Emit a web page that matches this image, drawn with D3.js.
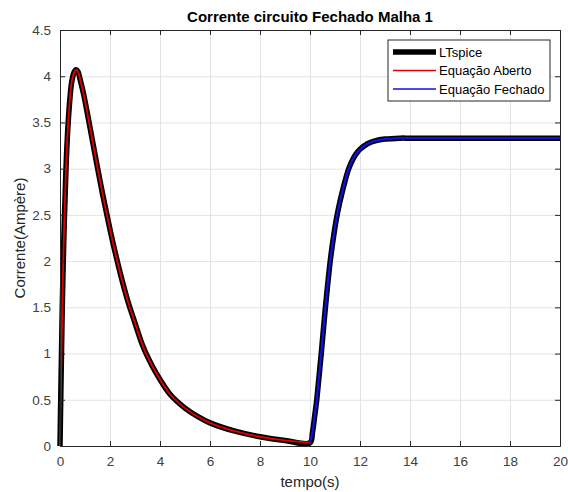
<!DOCTYPE html>
<html>
<head>
<meta charset="utf-8">
<script src="https://cdn.jsdelivr.net/npm/d3@7"></script>
<style>
  body { margin: 0; background: #fff; }
  svg { font-family: "Liberation Sans", Arial, sans-serif; }
</style>
</head>
<body>
<svg id="fig" width="568" height="492"></svg>
<script>
// valores
var tempoAberto    = [0, 0.02, 0.05, 0.09, 0.16, 0.24, 0.31, 0.4, 0.47, 0.56, 0.64, 0.72, 0.8, 0.95, 1.1, 1.3, 1.5, 1.7, 1.9, 2.1, 2.4, 2.7, 3.0, 3.33, 3.7, 4.0, 4.4, 5.0, 5.5, 6.0, 7.0, 8.0, 9.0, 10.0];
var correnteAberto = [0, 0.35, 0.85, 1.5, 2.31, 3.0, 3.42, 3.77, 3.94, 4.04, 4.07, 4.05, 3.97, 3.8, 3.59, 3.3, 3.01, 2.73, 2.47, 2.22, 1.88, 1.58, 1.33, 1.07, 0.86, 0.72, 0.56, 0.41, 0.32, 0.25, 0.16, 0.1, 0.06, 0.035];
var tempoFechado    = [10.0, 10.1, 10.2, 10.27, 10.36, 10.45, 10.6, 10.8, 10.95, 11.1, 11.3, 11.55, 11.75, 11.9, 12.0, 12.3, 12.6, 13.0, 13.6, 14.0, 16.0, 18.0, 20.0];
var correnteFechado = [0.035, 0.15, 0.35, 0.5, 0.75, 1.0, 1.45, 1.98, 2.28, 2.52, 2.76, 3.0, 3.12, 3.18, 3.21, 3.27, 3.3, 3.32, 3.33, 3.33, 3.33, 3.33, 3.33];
var tempoLT    = tempoAberto.concat(tempoFechado.slice(1));
var correnteLT = correnteAberto.concat(correnteFechado.slice(1));

var ticksX = [0, 2, 4, 6, 8, 10, 12, 14, 16, 18, 20];
var ticksY = [0, 0.5, 1, 1.5, 2, 2.5, 3, 3.5, 4, 4.5];
var legendas = ["LTspice", "Equação Aberto", "Equação Fechado"];

var esq = 60, dir = 560, topo = 30, base = 446;
var svg = d3.select("#fig");

var x = d3.scaleLinear().domain([0, 20]).range([esq, dir]);
var y = d3.scaleLinear().domain([0, 4.5]).range([base, topo]);

// grade
svg.append("g")
    .attr("transform", `translate(0,${base})`)
    .call(d3.axisBottom(x).tickValues(ticksX).tickSize(-(base - topo)).tickFormat(""))
    .call(g => g.select(".domain").remove())
    .call(g => g.selectAll("line").attr("stroke", "#e3e3e3"));
svg.append("g")
    .attr("transform", `translate(${esq},0)`)
    .call(d3.axisLeft(y).tickValues(ticksY).tickSize(-(dir - esq)).tickFormat(""))
    .call(g => g.select(".domain").remove())
    .call(g => g.selectAll("line").attr("stroke", "#e3e3e3"));

var linha = function(ts, is) {
    return d3.line()
        .x(function(d, i) { return x(ts[i]); })
        .y(function(d, i) { return y(is[i]); })
        .curve(d3.curveCatmullRom.alpha(0.5))(ts);
};

svg.append("path")
    .attr("d", linha(tempoLT, correnteLT))
    .attr("fill", "none").attr("stroke", "#000").attr("stroke-width", 5.5)
    .attr("stroke-linejoin", "round");
svg.append("path")
    .attr("d", linha(tempoAberto, correnteAberto))
    .attr("fill", "none").attr("stroke", "#e00000").attr("stroke-width", 1.8);
svg.append("path")
    .attr("d", linha(tempoFechado, correnteFechado))
    .attr("fill", "none").attr("stroke", "#1010e0").attr("stroke-width", 2.2);

// eixos
var estilo = function(g) {
    g.select(".domain").attr("stroke", "#262626");
    g.selectAll(".tick line").attr("stroke", "#262626");
    g.selectAll("text").attr("fill", "#404040").style("font-size", "13.5px");
};
svg.append("g")
    .attr("transform", `translate(0,${base})`)
    .call(d3.axisBottom(x).tickValues(ticksX).tickSize(-5).tickSizeOuter(0).tickPadding(10).tickFormat(d3.format("")))
    .call(estilo);
svg.append("g")
    .attr("transform", `translate(0,${topo})`)
    .call(d3.axisTop(x).tickValues(ticksX).tickSize(-5).tickSizeOuter(0).tickFormat(""))
    .call(estilo);
svg.append("g")
    .attr("transform", `translate(${esq},0)`)
    .call(d3.axisLeft(y).tickValues(ticksY).tickSize(-5).tickSizeOuter(0).tickPadding(9).tickFormat(d3.format("")))
    .call(estilo);
svg.append("g")
    .attr("transform", `translate(${dir},0)`)
    .call(d3.axisRight(y).tickValues(ticksY).tickSize(-5).tickSizeOuter(0).tickFormat(""))
    .call(estilo);

// textos
svg.append("text")
    .attr("x", 310).attr("y", 22)
    .attr("text-anchor", "middle")
    .style("font-size", "15px").style("font-weight", "bold")
    .text("Corrente circuito Fechado Malha 1");
svg.append("text")
    .attr("x", 310).attr("y", 487)
    .attr("text-anchor", "middle")
    .attr("fill", "#262626")
    .style("font-size", "15px")
    .text("tempo(s)");
svg.append("text")
    .attr("transform", "translate(25,238) rotate(-90)")
    .attr("text-anchor", "middle")
    .attr("fill", "#262626")
    .style("font-size", "15px")
    .text("Corrente(Ampère)");

// legenda
var leg = svg.append("g");
leg.append("rect")
    .attr("x", 388).attr("y", 40).attr("width", 162).attr("height", 61)
    .attr("fill", "#fff").attr("stroke", "#262626").attr("stroke-width", 1);
var cores = ["#000", "#e00000", "#1010e0"];
var larguras = [5.5, 1.5, 1.5];
legendas.forEach(function(nome, i) {
    var ly = 52 + i * 18.5;
    leg.append("line")
        .attr("x1", 393).attr("x2", 436).attr("y1", ly).attr("y2", ly)
        .attr("stroke", cores[i]).attr("stroke-width", larguras[i]);
    leg.append("text")
        .attr("x", 439).attr("y", ly + 4.5)
        .attr("fill", "#000")
        .style("font-size", "13px")
        .text(nome);
});
</script>
</body>
</html>
